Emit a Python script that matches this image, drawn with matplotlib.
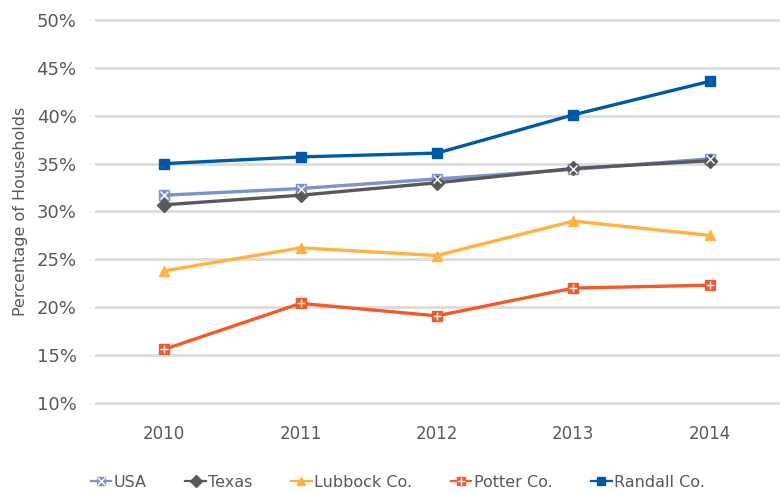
import numpy as np
import matplotlib.pyplot as plt
from matplotlib.lines import Line2D
from matplotlib.ticker import PercentFormatter

plt.rcParams['font.family'] = ['DejaVu Sans']

years = ['2010', '2011', '2012', '2013', '2014']
usa = [31.7, 32.4, 33.4, 34.4, 35.5]
texas = [30.7, 31.7, 33.0, 34.5, 35.3]
lubbock = [23.8, 26.2, 25.4, 29.0, 27.5]
potter = [15.6, 20.4, 19.1, 22.0, 22.3]
randall = [35.0, 35.7, 36.1, 40.1, 43.6]

text_col = '#595959'
grid_col = '#DCDCDC'

fig = plt.figure(figsize=(7.83, 4.93), dpi=100)
ax = fig.add_axes([0.1226, 0.1826, 0.871, 0.7768])

x = np.arange(len(years))
lw = 2.4
ms = 7.5

series = [
    ('USA', usa, '#7F91CF', 's', 'x'),
    ('Texas', texas, '#595959', 'D', None),
    ('Lubbock Co.', lubbock, '#FFB23F', '^', None),
    ('Potter Co.', potter, '#F15A2B', 's', '+'),
    ('Randall Co.', randall, '#0059A4', 's', None),
]

handles = []
for label, vals, col, mk, over in series:
    size = ms if mk != 'D' else ms - 0.5
    ax.plot(x, vals, color=col, lw=lw, marker=mk, ms=size,
            mec=col, mfc=col, solid_capstyle='round', zorder=3)
    h = Line2D([], [], color=col, lw=1.6, marker=mk, ms=size * 0.85, mec=col, mfc=col)
    if over:
        ax.plot(x, vals, ls='none', marker=over, ms=ms - 1.5, mec='white', mew=1.0, zorder=4)
        h2 = Line2D([], [], ls='none', marker=over, ms=(ms - 1.5) * 0.85, mec='white', mew=1.0)
        handles.append((h, h2))
    else:
        handles.append(h)

ax.set_xlim(-0.5, 4.5)
ax.set_ylim(10, 50)
ax.set_yticks(np.arange(10, 51, 5))
ax.yaxis.set_major_formatter(PercentFormatter(decimals=0))
ax.set_xticks(x)
ax.set_xticklabels(years)
ax.grid(axis='y', color=grid_col, lw=2)
ax.set_axisbelow(True)
for gl in ax.get_ygridlines():
    gl.set_clip_on(False)
for s in ax.spines.values():
    s.set_visible(False)
ax.tick_params(axis='x', length=0, labelsize=12, colors=text_col, pad=16)
ax.tick_params(axis='y', length=0, labelsize=13, colors=text_col, pad=14)
ax.set_ylabel('Percentage of Households', fontsize=11.5, color=text_col, labelpad=6)

fig.legend(handles, [s[0] for s in series], loc='center', bbox_to_anchor=(0.508, 0.022),
           ncol=5, frameon=False, fontsize=11.5, labelcolor=text_col,
           handlelength=1.3, handletextpad=0.15, columnspacing=2.4)

fig.savefig('out.png', dpi=100)
